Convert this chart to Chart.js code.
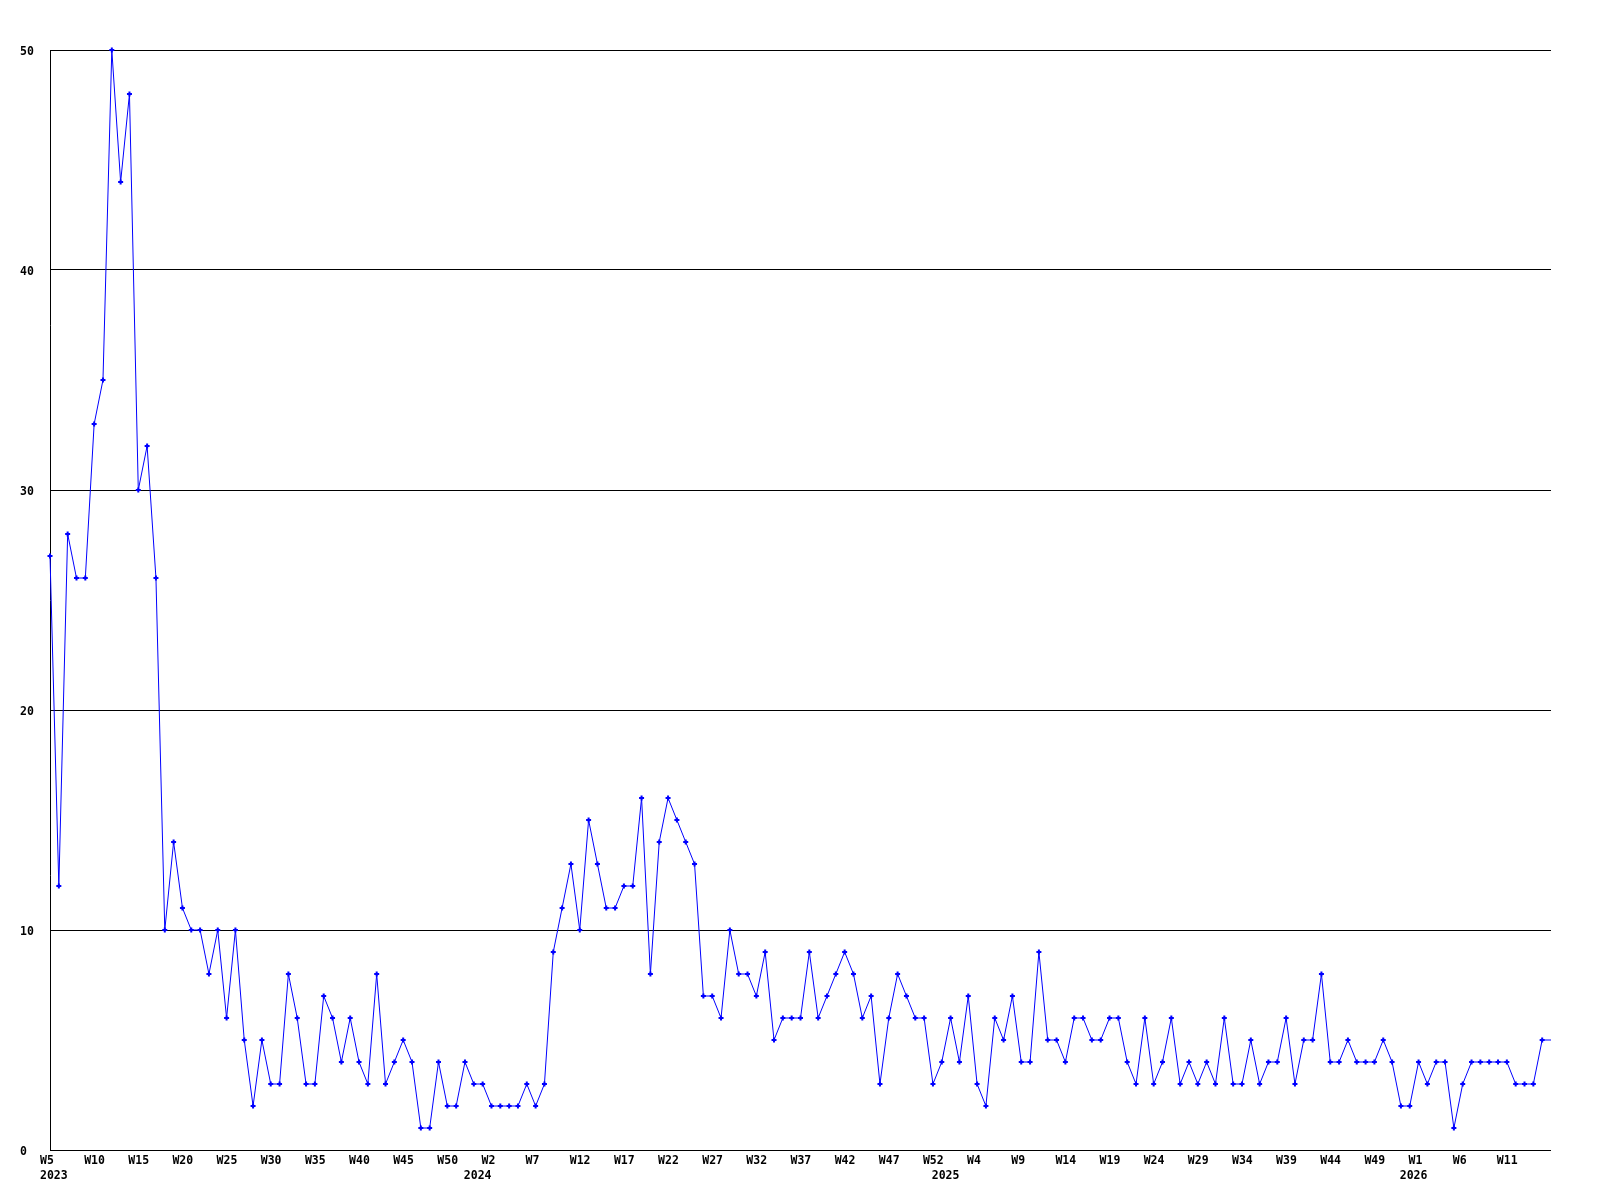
<!DOCTYPE html>
<html>
<head>
<meta charset="utf-8">
<title>grafica semanal</title>
<script src="https://cdn.jsdelivr.net/npm/chart.js@4/dist/chart.umd.min.js"></script>
<style>
body{margin:0;background:#fff;}
</style>
</head>
<body>
<canvas id="myChart" width="1600" height="1200"></canvas>
<script>
// valores por semana (una serie por año)
var anios = ['2023', '2024', '2025', '2026'];
var semanaInicial = [5, 1, 1, 1];
var serie2023 = [27,12,28,26,26,33,35,50,44,48,30,32,26,10,14,11,10,10,8,10,6,10,5,2,5,3,3,8,6,3,3,7,6,4,6,4,3,8,3,4,5,4,1,1,4,2,2,4,3];
var serie2024 = [3,2,2,2,2,3,2,3,9,11,13,10,15,13,11,11,12,12,16,8,14,16,15,14,13,7,7,6,10,8,8,7,9,5,6,6,6,9,6,7,8,9,8,6,7,3,6,8,7,6,6,3,4];
var serie2025 = [6,4,7,3,2,6,5,7,4,4,9,5,5,4,6,6,5,5,6,6,4,3,6,3,4,6,3,4,3,4,3,6,3,3,5,3,4,4,6,3,5,5,8,4,4,5,4,4,4,5,4,2,2];
var serie2026 = [4,3,4,4,1,3,4,4,4,4,4,3,3,3,5,5];
var ticksY = [0, 10, 20, 30, 40, 50];

var series = [serie2023, serie2024, serie2025, serie2026];
var etiquetas = [];
var datos = [];
var anioEn = {};
for (var a = 0; a < series.length; a++) {
	if (a === 0) anioEn[0] = anios[0];
	else anioEn[etiquetas.length - 1] = anios[a];
	for (var j = 0; j < series[a].length; j++) {
		etiquetas.push('W' + (semanaInicial[a] + j));
		datos.push(series[a][j]);
	}
}
var ultimo = datos.length - 1;
var fuente = {family: "'DejaVu Sans Mono', monospace", size: 11.5, weight: 'bold', lineHeight: 1.27};

var myChart = document.getElementById('myChart');
var grafica = new Chart(myChart, {
	type: 'line',
	data: {
		labels: etiquetas,
		datasets: [{
			data: datos,
			borderColor: '#0000ff',
			backgroundColor: '#0000ff',
			borderWidth: 1,
			tension: 0,
			pointStyle: 'cross',
			pointRadius: function(ctx){ return ctx.dataIndex === ultimo ? 0 : 2.5; },
			pointBorderWidth: 2,
			clip: false
		}]
	},
	options: {
		responsive: false,
		animation: false,
		layout: {padding: {left: 20, right: 49, top: 50, bottom: 0}},
		plugins: {legend: {display: false}, tooltip: {enabled: false}},
		scales: {
			x: {
				grid: {display: false, drawTicks: false},
				border: {display: false},
				ticks: {
					autoSkip: false,
					maxRotation: 0,
					align: 'start',
					labelOffset: -10,
					padding: 4,
					color: '#000',
					font: fuente,
					callback: function(v, i){
						// sin etiqueta en la ultima semana
						var sem = (i % 5 === 0 && i !== ultimo) ? etiquetas[i] : '';
						if (anioEn[i] !== undefined) return [sem, anioEn[i]];
						return sem;
					}
				},
				afterFit: function(s){ s.height = 50; }
			},
			y: {
				min: 0,
				max: 50,
				afterBuildTicks: function(s){ s.ticks = ticksY.map(function(v){ return {value: v}; }); },
				grid: {color: '#000', lineWidth: 1, drawTicks: false},
				border: {display: true, color: '#000', width: 1},
				ticks: {
					crossAlign: 'far',
					labelOffset: 2,
					color: '#000',
					font: fuente
				},
				afterFit: function(s){ s.width = 30; }
			}
		}
	}
});
</script>
</body>
</html>
